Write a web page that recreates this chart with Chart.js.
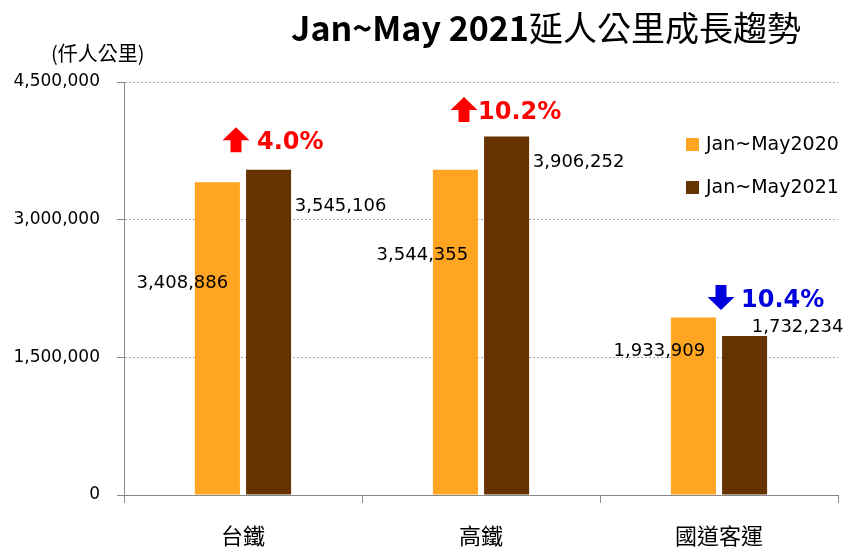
<!DOCTYPE html>
<html>
<head>
<meta charset="utf-8">
<script src="https://cdn.jsdelivr.net/npm/chart.js@4.4.0/dist/chart.umd.min.js"></script>
<style>
  html, body { margin: 0; padding: 0; background: #fff; }
  #wrap { width: 844px; height: 547px; position: relative; }
</style>
</head>
<body>
<div id="wrap"><canvas id="myChart"></canvas></div>
<script>
"use strict";
// data
const categories = ["台鐵", "高鐵", "國道客運"];
const seriesNames = ["Jan~May2020", "Jan~May2021"];
const values2020 = [3408886, 3544355, 1933909];
const values2021 = [3545106, 3906252, 1732234];
const yTicks = [0, 1500000, 3000000, 4500000];

const colors = ["#FFA521", "#663300"];
const fmt = (v) => v.toLocaleString("en-US");

// hand placed labels in the original, offsets from the bar's top centre
const labelNudge = [
  [[-35, 101], [-33, 86], [-34, 34]],
  [[72, 37], [72, 26], [53, -9]],
];
// arrow offsets from group centre / top of taller bar, then gap to the text
const arrowNudge = [[-7, -30, 21], [-17, -27, 14], [2, -20, 20]];

const drawArrow = function (ctx, x, y, up, color) {
  const h = 25, headH = 13, headW = 27, shaftW = 11;
  const s = up ? 1 : -1;
  const tip = y - s * h / 2;
  const neck = tip + s * headH;
  const tail = y + s * h / 2;
  ctx.save();
  ctx.fillStyle = color;
  ctx.beginPath();
  ctx.moveTo(x, tip);
  ctx.lineTo(x + headW / 2, neck);
  ctx.lineTo(x + shaftW / 2, neck);
  ctx.lineTo(x + shaftW / 2, tail);
  ctx.lineTo(x - shaftW / 2, tail);
  ctx.lineTo(x - shaftW / 2, neck);
  ctx.lineTo(x - headW / 2, neck);
  ctx.closePath();
  ctx.fill();
  ctx.restore();
};

const extras = {
  id: "extras",
  afterDatasetsDraw(chart) {
    const ctx = chart.ctx;
    ctx.save();

    // title: latin part bold, chinese part regular
    ctx.fillStyle = "#000";
    ctx.textBaseline = "middle";
    ctx.textAlign = "left";
    const t1 = "Jan~May 2021";
    const t2 = "延人公里成長趨勢";
    const f1 = "bold 34px 'Noto Sans CJK TC'";
    const f2 = "34px 'Noto Sans CJK TC'";
    ctx.font = f1;
    const w1 = ctx.measureText(t1).width;
    ctx.font = f2;
    const w2 = ctx.measureText(t2).width;
    const tx = 546 - (w1 + w2) / 2;
    ctx.font = f1;
    ctx.fillText(t1, tx, 28);
    ctx.font = f2;
    ctx.fillText(t2, tx + w1, 28);

    ctx.font = "20px 'Noto Sans CJK TC'";
    ctx.fillText("(仟人公里)", 51, 53);

    // value labels
    ctx.font = "18px 'DejaVu Sans'";
    ctx.textAlign = "center";
    chart.data.datasets.forEach((ds, di) => {
      chart.getDatasetMeta(di).data.forEach((bar, i) => {
        const [dx, dy] = labelNudge[di][i];
        ctx.fillText(fmt(ds.data[i]), bar.x + dx, bar.y + dy);
      });
    });

    // growth arrows
    const m0 = chart.getDatasetMeta(0).data;
    const m1 = chart.getDatasetMeta(1).data;
    categories.forEach((c, i) => {
      const change = (values2021[i] - values2020[i]) / values2020[i];
      const up = change >= 0;
      const color = up ? "#FF0000" : "#0000DD";
      const cx = (m0[i].x + m1[i].x) / 2 + arrowNudge[i][0];
      const cy = Math.min(m0[i].y, m1[i].y) + arrowNudge[i][1];
      drawArrow(ctx, cx, cy, up, color);
      ctx.fillStyle = color;
      ctx.textAlign = "left";
      ctx.font = "bold 24px 'DejaVu Sans'";
      ctx.fillText((Math.abs(change) * 100).toFixed(1) + "%", cx + arrowNudge[i][2], cy + 3);
    });

    // legend
    ctx.font = "19px 'DejaVu Sans'";
    ctx.textAlign = "left";
    seriesNames.forEach((name, i) => {
      const y = 145 + i * 43;
      ctx.fillStyle = colors[i];
      ctx.fillRect(686, y - 7, 13, 13);
      ctx.fillStyle = "#000";
      ctx.fillText(name, 706, y);
    });
    ctx.restore();
  },
};

const myChart = new Chart(document.getElementById("myChart"), {
  type: "bar",
  data: {
    labels: categories,
    datasets: [
      { label: seriesNames[0], data: values2020, backgroundColor: colors[0] },
      { label: seriesNames[1], data: values2021, backgroundColor: colors[1] },
    ],
  },
  options: {
    responsive: true,
    maintainAspectRatio: false,
    animation: false,
    categoryPercentage: 0.43,
    barPercentage: 0.88,
    layout: { padding: { top: 82, right: 6, left: 0, bottom: 0 } },
    plugins: {
      legend: { display: false },
      tooltip: { enabled: false },
    },
    scales: {
      x: {
        grid: {
          offset: true,
          drawOnChartArea: false,
          color: "#888",
          tickLength: 8,
        },
        border: { color: "#888" },
        ticks: {
          color: "#000",
          font: { family: "'Noto Sans CJK TC'", size: 22 },
          padding: 19,
        },
        afterFit(scale) { scale.height = 52; },
      },
      y: {
        min: 0,
        max: 4500000,
        afterBuildTicks(scale) { scale.ticks = yTicks.map((v) => ({ value: v })); },
        grid: {
          color: "#A8A8A8",
          tickColor: "#888",
          tickLength: 7,
        },
        border: { color: "#888", dash: [2, 2] },
        ticks: {
          color: "#000",
          font: { family: "'DejaVu Sans'", size: 17 },
          padding: 17,
          callback: (v) => fmt(v),
        },
        afterFit(scale) { scale.width = 124; },
      },
    },
  },
  plugins: [extras],
});
</script>
</body>
</html>
